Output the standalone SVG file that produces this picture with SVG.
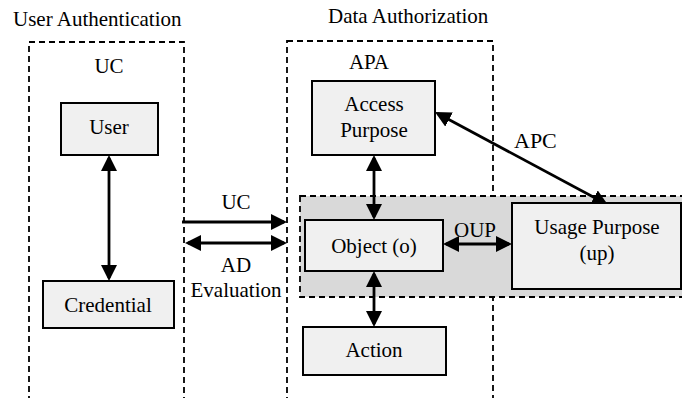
<svg xmlns="http://www.w3.org/2000/svg" width="682" height="398" viewBox="0 0 682 398" font-family="'Liberation Serif', 'Times New Roman', 'DejaVu Serif', serif" font-size="21">
  <style>
    text { font-family: 'Liberation Serif', 'Times New Roman', 'DejaVu Serif', serif; font-size: 21px; fill: #000; }
    .mid { text-anchor: middle; }
    .zone { fill: none; stroke: #000; stroke-width: 1.8; stroke-dasharray: 6 4; }
    .shade { fill: #d9d9d9; stroke: #000; stroke-width: 1.8; stroke-dasharray: 6 4; }
    .box { fill: #f0f0f0; stroke: #000; stroke-width: 2; }
    .link { fill: none; stroke: #000; stroke-width: 2.8; }
    .both { marker-start: url(#head); marker-end: url(#head); }
    .one { marker-end: url(#head); }
  </style>
  <defs>
    <marker id="head" markerUnits="userSpaceOnUse" markerWidth="16" markerHeight="16" refX="13" refY="8" orient="auto-start-reverse">
      <path d="M0,0 L16,8 L0,16 Z" fill="#000"/>
    </marker>
  </defs>

  <rect width="682" height="398" fill="#fff"/>

  <!-- domain frames -->
  <g id="user-authentication">
    <rect class="zone" x="29" y="42" width="155" height="370"/>
    <text x="13" y="26">User Authentication</text>
    <text class="mid" x="109" y="73">UC</text>
  </g>
  <g id="data-authorization">
    <rect class="zone" x="287" y="41" width="206" height="370"/>
    <text x="328" y="23">Data Authorization</text>
    <text class="mid" x="369" y="69">APA</text>
  </g>
  <g id="oup-zone">
    <rect class="shade" x="300" y="196" width="392" height="101"/>
  </g>

  <!-- connectors -->
  <g id="connectors">
    <line class="link both" x1="109" y1="158" x2="109" y2="278"/>
    <line class="link both" x1="374" y1="158" x2="374" y2="217"/>
    <line class="link both" x1="374" y1="274" x2="374" y2="324"/>
    <line class="link both" x1="446" y1="244" x2="509" y2="244"/>
    <line class="link one" x1="182" y1="222" x2="284" y2="222"/>
    <line class="link both" x1="188" y1="243" x2="284" y2="243"/>
    <line class="link both" x1="437.6" y1="113.4" x2="605.4" y2="203.6"/>
    <text class="mid" x="236" y="209">UC</text>
    <text class="mid" x="236" y="272">AD</text>
    <text class="mid" x="236" y="297">Evaluation</text>
    <text class="mid" x="475" y="237">OUP</text>
    <text x="514" y="148" style="font-size:22px">APC</text>
  </g>

  <!-- nodes -->
  <g id="user">
    <rect class="box" x="61" y="103" width="97" height="52"/>
    <text class="mid" x="109" y="134">User</text>
  </g>
  <g id="credential">
    <rect class="box" x="43" y="281" width="131" height="47"/>
    <text class="mid" x="108" y="312">Credential</text>
  </g>
  <g id="access-purpose">
    <rect class="box" x="312" y="81" width="123" height="74"/>
    <text class="mid" x="374" y="111">Access</text>
    <text class="mid" x="374" y="137">Purpose</text>
  </g>
  <g id="object">
    <rect class="box" x="305" y="220" width="138" height="51"/>
    <text class="mid" x="374" y="253">Object (o)</text>
  </g>
  <g id="action">
    <rect class="box" x="303" y="327" width="143" height="48"/>
    <text class="mid" x="374" y="357">Action</text>
  </g>
  <g id="usage-purpose">
    <rect class="box" x="512" y="203" width="169" height="86"/>
    <text class="mid" x="597" y="234">Usage Purpose</text>
    <text class="mid" x="597" y="260">(up)</text>
  </g>
</svg>
